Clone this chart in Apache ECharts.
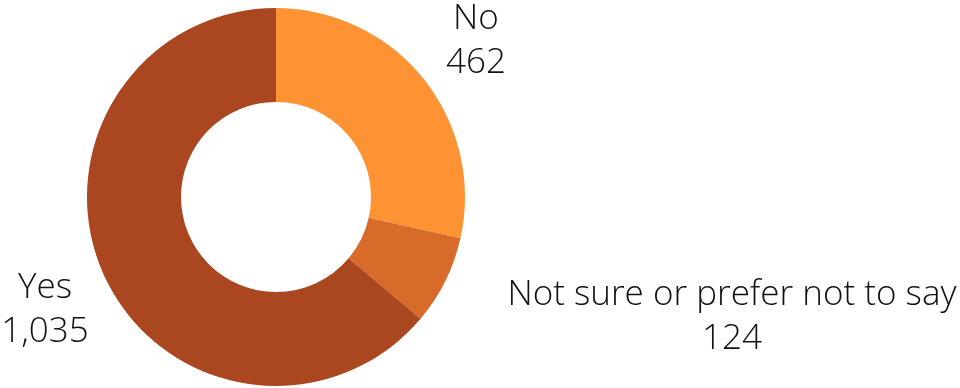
<!DOCTYPE html>
<html>
<head>
<meta charset="utf-8">
<script src="https://cdn.jsdelivr.net/npm/echarts@6/dist/echarts.min.js"></script>
<style>
  html, body { margin: 0; padding: 0; background: #fff; }
  #chart { width: 960px; height: 388px; }
</style>
</head>
<body>
<div id="chart"></div>
<script>
// Survey answers and counts
const categories = ['No', 'Not sure or prefer not to say', 'Yes'];
const counts = [462, 124, 1035];
const colors = ['#FF9233', '#D86B2A', '#AB4720'];

// Where each two-line label sits (centre of the text block)
const labelSpots = [
  { x: 476, y: 41 },
  { x: 732, y: 317 },
  { x: 45, y: 310 }
];

const chart = echarts.init(document.getElementById('chart'), null, { renderer: 'canvas' });

const fmt = new Intl.NumberFormat('en-US');

chart.setOption({
  animation: false,
  series: [{
    type: 'pie',
    center: [276, 197],
    radius: [95, 189],
    startAngle: 90,
    clockwise: true,
    avoidLabelOverlap: false,
    itemStyle: { borderWidth: 0 },
    label: {
      show: true,
      position: 'outside',
      formatter: p => p.name + '\n' + fmt.format(p.value),
      fontFamily: '"Open Sans", sans-serif',
      fontWeight: 300,
      fontSize: 35,
      lineHeight: 44,
      color: '#111111',
      align: 'center'
    },
    labelLine: { show: false },
    labelLayout: p => ({
      x: labelSpots[p.dataIndex].x,
      y: labelSpots[p.dataIndex].y,
      align: 'center',
      verticalAlign: 'middle'
    }),
    data: categories.map((c, i) => ({
      name: c,
      value: counts[i],
      itemStyle: { color: colors[i] }
    }))
  }]
});
</script>
</body>
</html>
